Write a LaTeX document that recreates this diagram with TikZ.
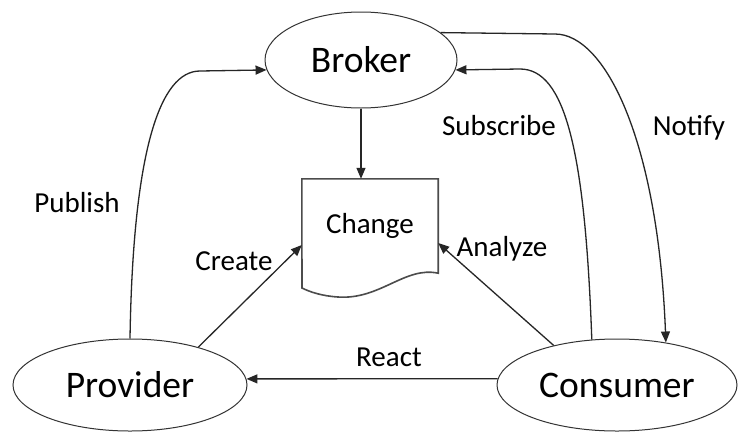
\documentclass[tikz,border=0pt]{standalone}
\usepackage{fontspec}
\setmainfont{Carlito}
\usetikzlibrary{shapes.geometric,arrows.meta}
\begin{document}
\begin{tikzpicture}[x=1pt,y=-1pt,
  big/.style={ellipse,draw=black!80,line width=1pt,inner sep=0pt,font=\fontsize{37.5}{40}\selectfont},
  lbl/.style={font=\fontsize{29}{32}\selectfont,anchor=base,inner sep=0pt},
  conn/.style={draw=black!85,line width=1.3pt,-{Triangle[length=11pt,width=9pt]}},
  plain/.style={draw=black!85,line width=1.3pt}]
\useasboundingbox (0,0) rectangle (739,432);
\fill[white] (0,0) rectangle (739,432);
\node[big,minimum width=192,minimum height=96] (broker) at (361,60) {Broker};
\node[big,minimum width=234,minimum height=92] (provider) at (130,385) {Provider};
\node[big,minimum width=240,minimum height=92] (consumer) at (617,385) {Consumer};
\node[rectangle,minimum width=136,minimum height=94,inner sep=0pt,font=\fontsize{29}{32}\selectfont] (change) at (370,226) {Change};
\draw[draw=black!70,line width=1.6pt] (change.south east) .. controls (405,266) and (380,300) .. (338,297)
  .. controls (322,296) and (310,292) .. (302,288) -- (change.north west) -- (change.north east) -- cycle;
% Publish
\draw[conn] (provider.north) .. controls (133,150) and (160,71) .. (200,71) -- (broker.186);
% Broker -> Change
\draw[conn] (broker.south) -- (broker.south |- change.north);
% Subscribe
\draw[conn] (consumer.119) .. controls (585,150) and (565,69) .. (520,69) -- (broker.354);
% Notify
\draw[conn] (broker.19) -- (555,34) .. controls (605,34) and (658,140) .. (consumer.41);
% Create
\draw[conn] (provider.29) -- ([yshift=-19pt]change.west);
% Analyze
\draw[conn] (consumer.148) -- ([yshift=-17pt]change.east);
% React
\draw[conn] (consumer.177) -- (provider.3);
% labels
\node[lbl] (lpub) at (77,212) {Publish};
\node[lbl] (lsub) at (499,135) {Subscribe};
\node[lbl] (lnot) at (689,135) {Notify};
\node[lbl] (lcre) at (234,270) {Create};
\node[lbl] (lana) at (502,256) {Analyze};
\node[lbl] (lrea) at (389,366) {React};
\end{tikzpicture}
\end{document}
